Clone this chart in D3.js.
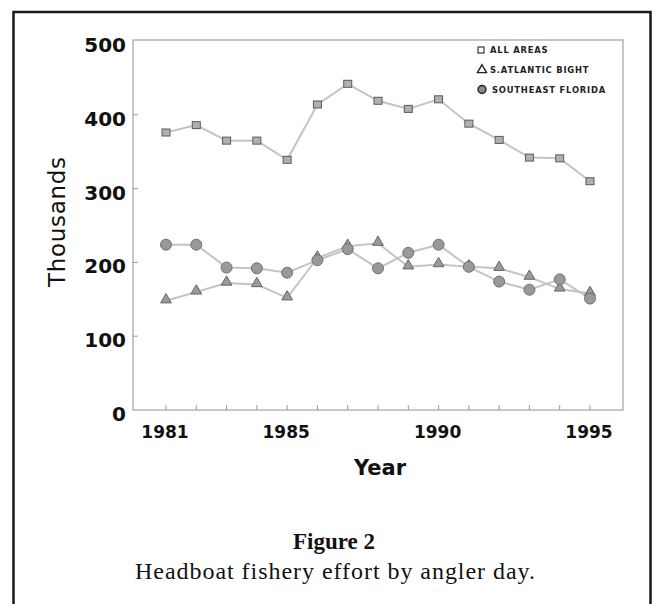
<!DOCTYPE html>
<html>
<head>
<meta charset="utf-8">
<script src="https://cdn.jsdelivr.net/npm/d3@7"></script>
<style>
  body { margin: 0; background: #fff; }
  svg { display: block; }
</style>
</head>
<body>
<svg id="chart"></svg>
<script>
// data (thousands of angler days)
var years = [1981, 1982, 1983, 1984, 1985, 1986, 1987, 1988, 1989, 1990, 1991, 1992, 1993, 1994, 1995];
var allAreas = [376, 386, 365, 365, 339, 414, 442, 419, 408, 421, 388, 366, 342, 341, 310];
var sAtlanticBight = [148, 160, 172, 170, 152, 206, 222, 226, 194, 197, 194, 192, 180, 164, 158];
var southeastFlorida = [224, 224, 193, 192, 186, 203, 218, 192, 213, 224, 194, 174, 163, 177, 151];
var yTicks = [0, 100, 200, 300, 400, 500];
var xLabels = [1981, 1985, 1990, 1995];
var legendNames = ['ALL AREAS', 'S.ATLANTIC BIGHT', 'SOUTHEAST FLORIDA'];

var svgWidth = 653, svgHeight = 604;
var svg = d3.select('#chart')
    .attr('width', svgWidth)
    .attr('height', svgHeight);

// outer frame of the figure
svg.append('rect')
    .attr('x', 13.5).attr('y', 12)
    .attr('width', 637).attr('height', 640)
    .attr('fill', 'none')
    .attr('stroke', '#1a1a1a')
    .attr('stroke-width', 2.5);

var plot = { left: 133, right: 623, top: 40, bottom: 410 };

var x = d3.scaleLinear().domain([1981, 1995]).range([166, 590]);
var y = d3.scaleLinear().domain([0, 500]).range([410, 41]);

// plot box
svg.append('rect')
    .attr('x', plot.left).attr('y', plot.top)
    .attr('width', plot.right - plot.left)
    .attr('height', plot.bottom - plot.top)
    .attr('fill', 'none')
    .attr('stroke', '#b5b5b5')
    .attr('stroke-width', 1.5);

// year ticks along the bottom
svg.append('g').selectAll('line')
    .data(years)
    .enter()
    .append('line')
    .attr('x1', function (d) { return x(d); })
    .attr('x2', function (d) { return x(d); })
    .attr('y1', plot.bottom)
    .attr('y2', plot.bottom - 5)
    .attr('stroke', '#999')
    .attr('stroke-width', 1);

// value ticks on the left
svg.append('g').selectAll('line')
    .data(yTicks.slice(1, 5))
    .enter()
    .append('line')
    .attr('x1', plot.left)
    .attr('x2', plot.left + 5)
    .attr('y1', function (d) { return y(d); })
    .attr('y2', function (d) { return y(d); })
    .attr('stroke', '#999')
    .attr('stroke-width', 1);

// y tick labels
svg.append('g').selectAll('text')
    .data(yTicks)
    .enter()
    .append('text')
    .attr('x', 126)
    .attr('y', function (d) { return y(d) + 11; })
    .attr('text-anchor', 'end')
    .attr('font-family', 'DejaVu Sans')
    .attr('font-weight', 'bold')
    .attr('font-size', 20)
    .attr('fill', '#111')
    .text(function (d) { return d; });

// x tick labels
svg.append('g').selectAll('text')
    .data(xLabels)
    .enter()
    .append('text')
    .attr('x', function (d) { return x(d) - 1; })
    .attr('y', 438)
    .attr('text-anchor', 'middle')
    .attr('font-family', 'DejaVu Sans')
    .attr('font-weight', 'bold')
    .attr('font-size', 17)
    .attr('fill', '#111')
    .text(function (d) { return d; });

// axis titles
svg.append('text')
    .attr('transform', 'translate(65,222) rotate(-90)')
    .attr('text-anchor', 'middle')
    .attr('font-family', 'DejaVu Sans')
    .attr('font-size', 23)
    .attr('textLength', 130)
    .attr('lengthAdjust', 'spacing')
    .attr('fill', '#111')
    .text('Thousands');

svg.append('text')
    .attr('x', 380).attr('y', 475)
    .attr('text-anchor', 'middle')
    .attr('font-family', 'DejaVu Sans')
    .attr('font-weight', 'bold')
    .attr('font-size', 21)
    .attr('fill', '#111')
    .text('Year');

// series lines
var line = d3.line()
    .x(function (d, i) { return x(years[i]); })
    .y(function (d) { return y(d); });

[allAreas, sAtlanticBight, southeastFlorida].forEach(function (s) {
    svg.append('path')
        .datum(s)
        .attr('fill', 'none')
        .attr('stroke', '#c4c4c4')
        .attr('stroke-width', 2)
        .attr('d', line);
});

// markers
var tri = d3.symbol().type(d3.symbolTriangle).size(50);

svg.append('g').selectAll('path')
    .data(sAtlanticBight)
    .enter()
    .append('path')
    .attr('transform', function (d, i) { return 'translate(' + x(years[i]) + ',' + (y(d) - 1) + ')'; })
    .attr('d', tri)
    .attr('fill', '#9a9a9a')
    .attr('stroke', '#666')
    .attr('stroke-width', 1);

svg.append('g').selectAll('circle')
    .data(southeastFlorida)
    .enter()
    .append('circle')
    .attr('cx', function (d, i) { return x(years[i]); })
    .attr('cy', function (d) { return y(d); })
    .attr('r', 5.5)
    .attr('fill', '#999')
    .attr('stroke', '#707070')
    .attr('stroke-width', 1);

svg.append('g').selectAll('rect')
    .data(allAreas)
    .enter()
    .append('rect')
    .attr('x', function (d, i) { return x(years[i]) - 4; })
    .attr('y', function (d) { return y(d) - 3.5; })
    .attr('width', 8)
    .attr('height', 7)
    .attr('fill', '#b0b0b0')
    .attr('stroke', '#5a5a5a')
    .attr('stroke-width', 1);

// legend
var legend = svg.append('g');
legend.append('rect')
    .attr('x', 478).attr('y', 47)
    .attr('width', 6).attr('height', 6)
    .attr('fill', 'none').attr('stroke', '#333').attr('stroke-width', 1.2);
legend.append('path')
    .attr('transform', 'translate(482,70)')
    .attr('d', d3.symbol().type(d3.symbolTriangle).size(36))
    .attr('fill', 'none').attr('stroke', '#222').attr('stroke-width', 1.4);
legend.append('circle')
    .attr('cx', 482).attr('cy', 89.5).attr('r', 4)
    .attr('fill', '#888').attr('stroke', '#222').attr('stroke-width', 1.4);

legend.selectAll('text')
    .data(legendNames)
    .enter()
    .append('text')
    .attr('x', function (d, i) { return i === 2 ? 492 : 490; })
    .attr('y', function (d, i) { return 53 + i * 19.8; })
    .attr('font-family', 'DejaVu Sans')
    .attr('font-weight', 'bold')
    .attr('font-size', 8.4)
    .attr('letter-spacing', 0.8)
    .attr('fill', '#222')
    .text(function (d) { return d; });

// caption
svg.append('text')
    .attr('x', 334).attr('y', 549)
    .attr('text-anchor', 'middle')
    .attr('font-family', 'Liberation Serif')
    .attr('font-weight', 'bold')
    .attr('font-size', 23)
    .attr('fill', '#111')
    .text('Figure 2');

svg.append('text')
    .attr('x', 335).attr('y', 579)
    .attr('text-anchor', 'middle')
    .attr('font-family', 'Liberation Serif')
    .attr('font-size', 24)
    .attr('textLength', 400)
    .attr('lengthAdjust', 'spacing')
    .attr('fill', '#111')
    .text('Headboat fishery effort by angler day.');
</script>
</body>
</html>
